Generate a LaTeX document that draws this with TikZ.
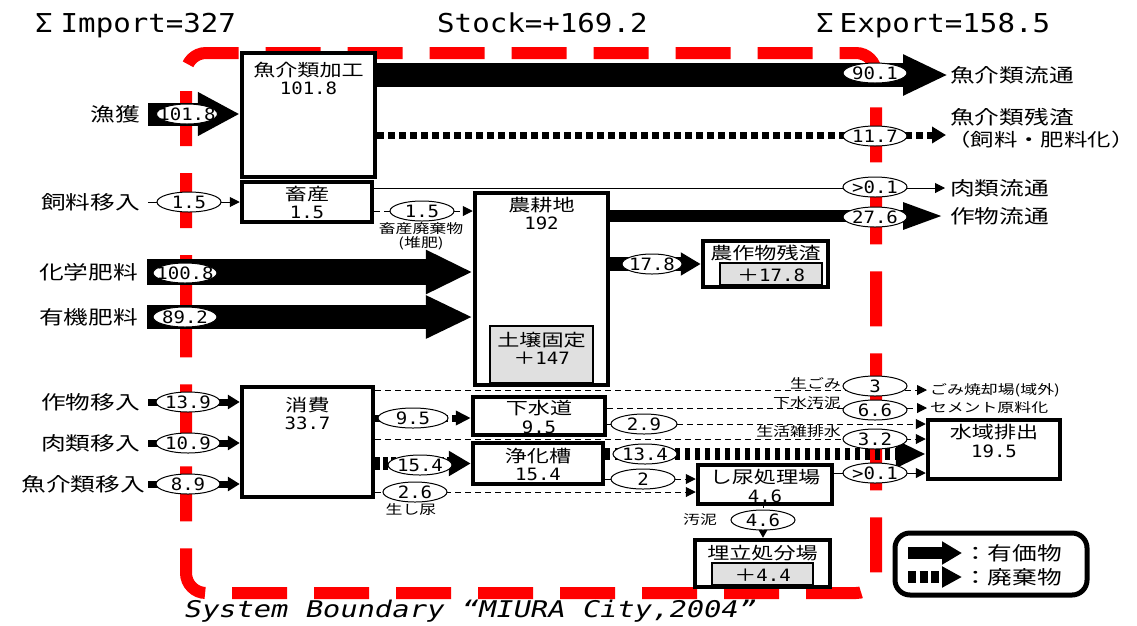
\documentclass[tikz,border=0pt]{standalone}
\usepackage{fontspec}
\setmainfont{Noto Sans CJK JP}[FakeStretch=1.3]
\newfontfamily\numfont{DejaVu Sans Mono}[FakeStretch=1.12]
\newfontfamily\sysfont{DejaVu Sans Mono}[FakeStretch=1.25,FakeSlant=0.22]
\usetikzlibrary{arrows.meta,shapes.geometric}
\pgfdeclarelayer{back}\pgfdeclarelayer{bg}\pgfsetlayers{back,bg,main}
\newcommand\zw[1]{\makebox[0pt]{#1}}
\tikzset{
 bx/.style={draw, line width=4.5pt, fill=white, inner sep=0pt},
 gbx/.style={draw, line width=1.2pt, fill=black!12, inner sep=0pt},
 jt/.style={font=\fontsize{17}{17}\selectfont, inner sep=0pt},
 nt/.style={font=\numfont\fontsize{17}{17}\selectfont, inner sep=0pt},
 lab/.style={font=\fontsize{19}{19}\selectfont, inner sep=0pt},
 slab/.style={font=\fontsize{13}{13}\selectfont, inner sep=0pt},
 ttl/.style={font=\numfont\fontsize{26}{26}\selectfont, inner sep=0pt, anchor=base west},
 ell/.style={ellipse, draw, line width=1pt, fill=white, inner sep=0pt, minimum width=64pt, minimum height=20pt, text height=12pt, text depth=0pt, font=\numfont\fontsize{17}{17}\selectfont},
 tline/.style={line width=1pt, -{Triangle[length=10pt,width=10pt]}},
 dline/.style={line width=1pt, dash pattern=on 6pt off 4pt, -{Triangle[length=10pt,width=10pt]}},
 dotline/.style={line width=1pt, dash pattern=on 2pt off 2pt, -{Triangle[length=9pt,width=10pt]}},
 inarrow/.style={line width=7pt, -{Triangle[length=12pt,width=14pt]}},
 waste/.style={line width=7pt, dash pattern=on 7pt off 4pt},
 bound/.style={draw=red, line width=12pt, dash pattern=on 55pt off 27pt, rounded corners=20pt},
}
\begin{document}
\begin{tikzpicture}[x=1pt,y=-1pt]
\useasboundingbox (0,0) rectangle (1137,625);
\begin{pgfonlayer}{back}
\fill[white] (0,0) rectangle (1137,625);
\draw[bound] (186,330) -- (186,53) -- (876,53) -- (876,593) -- (186,593) -- cycle;
\end{pgfonlayer}

% titles
\node[ttl] (timp) at (35,32) {Σ\hspace{8pt}Import=327};
\node[ttl] (tstock) at (437,32) {Stock=+169.2};
\node[ttl] (texp) at (816,32) {Σ\hspace{6pt}Export=158.5};
\node[anchor=base west, inner sep=0pt, font=\sysfont\fontsize{23}{23}\selectfont] (sys) at (183,617) {System Boundary “MIURA City,2004”};

% process boxes
\node[bx, minimum width=133pt, minimum height=124pt] (proc) at (308.5,115) {};
\node[jt] (proc-t) at (308.5,70) {魚介類加工};
\node[nt] (proc-n) at (308.5,88) {101.8};

\node[bx, minimum width=130pt, minimum height=40pt] (live) at (307,202) {};
\node[jt] (live-t) at (307,194) {畜産};
\node[nt] (live-n) at (307,212) {1.5};

\node[bx, minimum width=133pt, minimum height=192pt] (farm) at (541.5,289) {};
\node[jt] (farm-t) at (541.5,205) {農耕地};
\node[nt] (farm-n) at (541.5,223) {192};
\node[gbx, minimum width=103pt, minimum height=57pt] (soil) at (541.5,354.5) {};
\node[jt] (soil-t) at (541.5,340) {土壌固定};
\node[jt] (soil-n) at (541.5,358) {＋{\numfont 147}};

\node[bx, minimum width=125pt, minimum height=46pt] (res) at (765.5,264) {};
\node[jt] (res-t) at (765.5,253) {農作物残渣};
\node[gbx, minimum width=102pt, minimum height=22pt] (resg) at (771,274) {};
\node[jt] (resg-n) at (771,275) {＋{\numfont 17.8}};

\node[bx, minimum width=131pt, minimum height=110pt] (cons) at (307.5,442) {};
\node[jt] (cons-t) at (307.5,405) {消費};
\node[nt] (cons-n) at (307.5,423) {33.7};

\node[bx, minimum width=132pt, minimum height=38pt] (sew) at (539,416) {};
\node[jt] (sew-t) at (539,408) {下水道};
\node[nt] (sew-n) at (539,427) {9.5};

\node[bx, minimum width=130pt, minimum height=41pt] (jok) at (538,463.5) {};
\node[jt] (jok-t) at (538,456) {浄化槽};
\node[nt] (jok-n) at (538,474) {15.4};

\node[bx, minimum width=134pt, minimum height=39pt] (night) at (765,484.5) {};
\node[jt] (night-t) at (765,477) {し尿処理場};
\node[nt] (night-n) at (765,496) {4.6};

\node[bx, minimum width=135pt, minimum height=47pt] (land) at (762.5,563.5) {};
\node[jt] (land-t) at (762.5,553) {埋立処分場};
\node[gbx, minimum width=101pt, minimum height=22pt] (landg) at (762.5,574) {};
\node[jt] (landg-n) at (762.5,575) {＋{\numfont 4.4}};

\node[bx, minimum width=132pt, minimum height=59pt] (water) at (994,449.5) {};
\node[jt] (water-t) at (994,432) {水域排出};
\node[nt] (water-n) at (994,451) {19.5};

% legend
\node[draw, line width=5pt, rounded corners=15pt, minimum width=192pt, minimum height=62pt, inner sep=0pt] (legend) at (991,564) {};
\node[lab, anchor=west] (lv) at (963,553) {：有価物};
\node[lab, anchor=west] (lw) at (963,577) {：廃棄物};
\coordinate (lv0) at (908,553);
\coordinate (lw0) at (908,577);

% outer labels
\node[lab, anchor=east] (fish) at (140,114) {漁獲};
\node[lab, anchor=east] (feed) at (140,202) {飼料移入};
\node[lab, anchor=east] (chem) at (138,272) {化学肥料};
\node[lab, anchor=east] (org) at (138,317) {有機肥料};
\node[lab, anchor=east] (cropin) at (140,402) {作物移入};
\node[lab, anchor=east] (meatin) at (140,443) {肉類移入};
\node[lab, anchor=east] (fishin) at (145,484) {魚介類移入};
\node[lab, anchor=west] (fout) at (950,75) {魚介類流通};
\node[lab, anchor=west] (resid1) at (950,117) {魚介類残渣};
\node[lab, anchor=west, font=\fontsize{18}{18}\selectfont] (resid2) at (947,140) {（飼料・肥料化）};
\coordinate (residtip) at (946,135);
\node[lab, anchor=west] (meat) at (950,188) {肉類流通};
\node[lab, anchor=west] (crop) at (950,216) {作物流通};

% small labels
\node[slab, anchor=west] (gomi) at (930,390) {ごみ焼却場(域外)};
\node[slab, anchor=west] (cem) at (930,408) {セメント原料化};
\node[slab, anchor=east] (namagomi) at (841,383) {生ごみ};
\node[slab, anchor=east] (gesui) at (841,403) {下水汚泥};
\node[slab, anchor=east] (zatsu) at (841,432) {生活雑排水};
\node[slab] (kyuhi) at (421,229) {畜産廃棄物};
\node[slab] (taihi) at (421,243) {(堆肥)};
\node[slab] (nyou) at (411,510) {生し尿};
\node[slab] (odei) at (700,520) {汚泥};

% ellipses
\node[ell, minimum width=61pt] (e1018) at (187,114) {\zw{101.8}};
\node[ell] (e901) at (875,73) {\zw{90.1}};
\node[ell] (e117) at (875,136) {\zw{11.7}};
\node[ell] (e15a) at (189,202) {\zw{1.5}};
\node[ell] (e01a) at (875,187) {\zw{>0.1}};
\node[ell] (e276) at (875,217) {\zw{27.6}};
\node[ell] (e15b) at (422,211) {\zw{1.5}};
\node[ell] (e1008) at (185,273) {\zw{100.8}};
\node[ell] (e892) at (185,317) {\zw{89.2}};
\node[ell, minimum width=60pt] (e178) at (652,264) {\zw{17.8}};
\node[ell] (e139) at (188,402) {\zw{13.9}};
\node[ell] (e109) at (188,443) {\zw{10.9}};
\node[ell] (e89) at (188,484) {\zw{8.9}};
\node[ell] (e3) at (875,386) {\zw{3}};
\node[ell] (e66) at (875,410) {\zw{6.6}};
\node[ell, minimum width=70pt] (e95) at (413,418) {\zw{9.5}};
\node[ell, minimum width=66pt] (e29) at (644,424) {\zw{2.9}};
\node[ell] (e32) at (875,439) {\zw{3.2}};
\node[ell] (e154) at (420,465) {\zw{15.4}};
\node[ell] (e134) at (645,454) {\zw{13.4}};
\node[ell] (e2) at (643,479) {\zw{2}};
\node[ell] (e26) at (415,492) {\zw{2.6}};
\node[ell] (e01b) at (875,473) {\zw{>0.1}};
\node[ell] (e46) at (763,520) {\zw{4.6}};

% connectors
\begin{pgfonlayer}{bg}
\draw[line width=23pt, -{Triangle[length=42pt,width=41pt]}] ([xshift=8pt]fish.east) -- (proc.west |- fish.east);
\draw[line width=24pt, -{Triangle[length=45pt,width=38pt]}] (proc.east |- fout.west) -- ([xshift=-2pt]fout.west);
\draw[waste, -{Triangle[length=14pt,width=16pt]}] (proc.east |- residtip) -- (residtip);
\draw[tline] ([xshift=8pt]feed.east) -- (live.west |- feed.east);
\draw[tline] (live.east |- meat.west) -- ([xshift=-5pt]meat.west);
\draw[dline] (live.east |- e15b) -- (farm.west |- e15b);
\draw[line width=26pt, -{Triangle[length=47pt,width=41pt]}] ([xshift=9pt]chem.east) -- (farm.west |- chem.east);
\draw[line width=24pt, -{Triangle[length=47pt,width=40pt]}] ([xshift=9pt]org.east) -- (farm.west |- org.east);
\draw[line width=12pt, -{Triangle[length=42pt,width=24pt]}] (farm.east |- crop.west) -- ([xshift=-5pt]crop.west);
\draw[line width=14pt, -{Triangle[length=20pt,width=22pt]}] (farm.east |- res.west) -- (res.west);
\draw[inarrow] ([xshift=8pt]cropin.east) -- (cons.west |- cropin.east);
\draw[inarrow] ([xshift=8pt]meatin.east) -- (cons.west |- meatin.east);
\draw[inarrow] ([xshift=3pt]fishin.east) -- (cons.west |- fishin.east);
\draw[waste, -{Triangle[length=15pt,width=14pt]}] (cons.east |- e95) -- (sew.west |- e95);
\draw[line width=13pt, dash pattern=on 5pt off 3pt, -{Triangle[length=22pt,width=24pt]}] (cons.east |- jok.west) -- (jok.west);
\draw[dline] (cons.east |- gomi.west) -- ([xshift=-3pt]gomi.west);
\draw[dline] (sew.east |- cem.west) -- ([xshift=-3pt]cem.west);
\draw[dline] (sew.east |- e29) -- (water.west |- e29);
\draw[dline] (cons.east |- e32) -- (water.west |- e32);
\draw[line width=12pt, dash pattern=on 5pt off 5pt, -{Triangle[length=30pt,width=26pt]}] (jok.east |- e134) -- (water.west |- e134);
\draw[dline] (jok.east |- e2) -- (night.west |- e2);
\draw[dline] (cons.east |- e26) -- (night.west |- e26);
\draw[tline] (night.east |- e01b) -- (water.west |- e01b);
\draw[dotline] (night.south -| e46) -- (land.north -| e46);
\draw[line width=12pt, -{Triangle[length=20pt,width=22pt]}] (lv0) -- ([xshift=-1pt]lv.west);
\draw[line width=12pt, dash pattern=on 8pt off 3.5pt, -{Triangle[length=20pt,width=20pt]}] (lw0) -- ([xshift=-1pt]lw.west);
\end{pgfonlayer}
\end{tikzpicture}
\end{document}
